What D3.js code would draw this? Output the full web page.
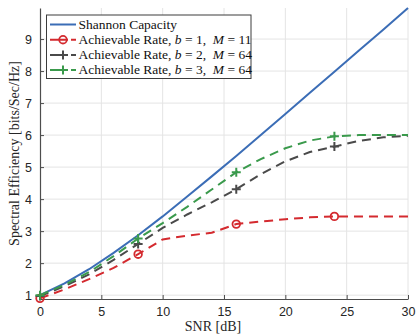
<!DOCTYPE html>
<html>
<head>
<meta charset="utf-8">
<script src="https://cdn.jsdelivr.net/npm/d3@7"></script>
<style>
  body { margin: 0; background: #fff; }
  svg { display: block; }
</style>
</head>
<body>
<div id="chart"></div>
<script>
// SNR grid (dB) shared by every curve
const snr = [0, 2, 4, 6, 8, 10, 12, 14, 16, 18, 20, 22, 24, 26, 28, 30];

// values
const shannon = [1.00, 1.37, 1.81, 2.32, 2.87, 3.46, 4.08, 4.71, 5.35, 6.00, 6.66, 7.32, 7.98, 8.64, 9.30, 9.97];
const rateB1 = [0.90, 1.18, 1.50, 1.85, 2.28, 2.74, 2.86, 2.95, 3.22, 3.30, 3.37, 3.43, 3.46, 3.46, 3.46, 3.46];
const rateB2 = [0.97, 1.28, 1.65, 2.10, 2.60, 3.10, 3.52, 3.90, 4.31, 4.78, 5.18, 5.47, 5.64, 5.82, 5.93, 5.98];
const rateB3 = [1.00, 1.32, 1.72, 2.22, 2.77, 3.25, 3.76, 4.30, 4.84, 5.25, 5.59, 5.83, 5.96, 6.00, 6.00, 6.00];

const markerIdx = [0, 4, 8, 12]; // markers at 0, 8, 16, 24 dB

const xTicks = [0, 5, 10, 15, 20, 25, 30];
const yTicks = [1, 2, 3, 4, 5, 6, 7, 8, 9];

const series = [
    { name: "shannon", values: shannon, color: "#3b6db6", dash: null, marker: null },
    { name: "b1", values: rateB1, color: "#d42a2f", dash: "9,6", marker: "circle", b: 1, M: 11 },
    { name: "b2", values: rateB2, color: "#4a4a4a", dash: "9,6", marker: "plus", b: 2, M: 64 },
    { name: "b3", values: rateB3, color: "#3a9a4c", dash: "9,6", marker: "plus", b: 3, M: 64 }
];

const width = 416, height = 336;
const svg = d3.select("#chart").append("svg")
    .attr("width", width)
    .attr("height", height);

const x = d3.scaleLinear().domain([0, 30]).range([40, 408]);
const y = d3.scaleLinear().domain([0.88, 9.97]).range([299, 8]);

const serif = "'Liberation Serif', 'Times New Roman', serif";
const sans = "'Liberation Sans', Arial, sans-serif";

// grid
svg.append("g").selectAll("line").data(xTicks.slice(1)).enter().append("line")
    .attr("x1", d => x(d)).attr("x2", d => x(d))
    .attr("y1", y.range()[0]).attr("y2", y.range()[1])
    .attr("stroke", "#e4e4e4").attr("stroke-width", 1);
svg.append("g").selectAll("line").data(yTicks).enter().append("line")
    .attr("x1", x.range()[0]).attr("x2", x.range()[1])
    .attr("y1", d => y(d)).attr("y2", d => y(d))
    .attr("stroke", "#e4e4e4").attr("stroke-width", 1);

// axes (ticks pointing inward)
const xAxis = svg.append("g")
    .attr("transform", `translate(0,${y.range()[0]})`)
    .call(d3.axisBottom(x).tickValues(xTicks).tickSizeInner(-4).tickSizeOuter(0).tickPadding(8));
const yAxis = svg.append("g")
    .attr("transform", `translate(${x.range()[0]},0)`)
    .call(d3.axisLeft(y).tickValues(yTicks).tickSizeInner(-4).tickSizeOuter(0).tickPadding(8));

[xAxis, yAxis].forEach(a => {
    a.select(".domain").attr("stroke", "#4d4d4d").attr("stroke-width", 1.2);
    a.selectAll(".tick line").attr("stroke", "#4d4d4d").attr("stroke-width", 1);
    a.selectAll(".tick text")
        .attr("fill", "#262626")
        .style("font-family", sans)
        .style("font-size", "12.5px");
});

// curves
const line = d3.line()
    .x((d, i) => x(snr[i]))
    .y(d => y(d));

const plotArea = svg.append("g");

series.forEach(s => {
    plotArea.append("path")
        .datum(s.values)
        .attr("fill", "none")
        .attr("stroke", s.color)
        .attr("stroke-width", 2)
        .attr("stroke-dasharray", s.dash)
        .attr("d", line);
});

function drawMarker(g, type, cx, cy, color) {
    if (type === "circle") {
        g.append("circle")
            .attr("cx", cx).attr("cy", cy).attr("r", 3.8)
            .attr("fill", "none")
            .attr("stroke", color)
            .attr("stroke-width", 1.8);
    } else if (type === "plus") {
        g.append("path")
            .attr("d", `M${cx - 4.5},${cy}H${cx + 4.5}M${cx},${cy - 4.5}V${cy + 4.5}`)
            .attr("stroke", color)
            .attr("stroke-width", 2);
    }
}

series.filter(s => s.marker).forEach(s => {
    markerIdx.forEach(i => drawMarker(plotArea, s.marker, x(snr[i]), y(s.values[i]), s.color));
});

// legend
const legend = svg.append("g");
legend.append("rect")
    .attr("x", 46.5).attr("y", 15)
    .attr("width", 204.5).attr("height", 63.5)
    .attr("fill", "#fff")
    .attr("stroke", "#3c3c3c")
    .attr("stroke-width", 1);

series.forEach((s, k) => {
    const ly = 24.5 + k * 15.2;
    legend.append("line")
        .attr("x1", 50).attr("x2", 76)
        .attr("y1", ly).attr("y2", ly)
        .attr("stroke", s.color)
        .attr("stroke-width", 2)
        .attr("stroke-dasharray", s.dash ? "18,3,10" : null);
    if (s.marker) drawMarker(legend, s.marker, 63, ly, s.color);

    const t = legend.append("text")
        .attr("x", 78.5).attr("y", ly + 4.3)
        .attr("fill", "#111")
        .style("font-family", serif)
        .style("font-size", "13.5px");
    if (!s.b) {
        t.text("Shannon Capacity");
    } else {
        t.append("tspan").text("Achievable Rate, ");
        t.append("tspan").attr("font-style", "italic").text("b");
        t.append("tspan").text(` = ${s.b},\u2002`);
        t.append("tspan").attr("font-style", "italic").text("M");
        t.append("tspan").text(` = ${s.M}`);
    }
});

// axis labels
svg.append("text")
    .attr("x", 213).attr("y", 331)
    .attr("text-anchor", "middle")
    .attr("fill", "#262626")
    .style("font-family", serif)
    .style("font-size", "14px")
    .text("SNR [dB]");

svg.append("text")
    .attr("transform", `translate(18.5,${(y.range()[0] + y.range()[1]) / 2}) rotate(-90)`)
    .attr("text-anchor", "middle")
    .attr("fill", "#262626")
    .style("font-family", serif)
    .style("font-size", "14px")
    .text("Spectral Efficiency [bits/Sec/Hz]");
</script>
</body>
</html>
